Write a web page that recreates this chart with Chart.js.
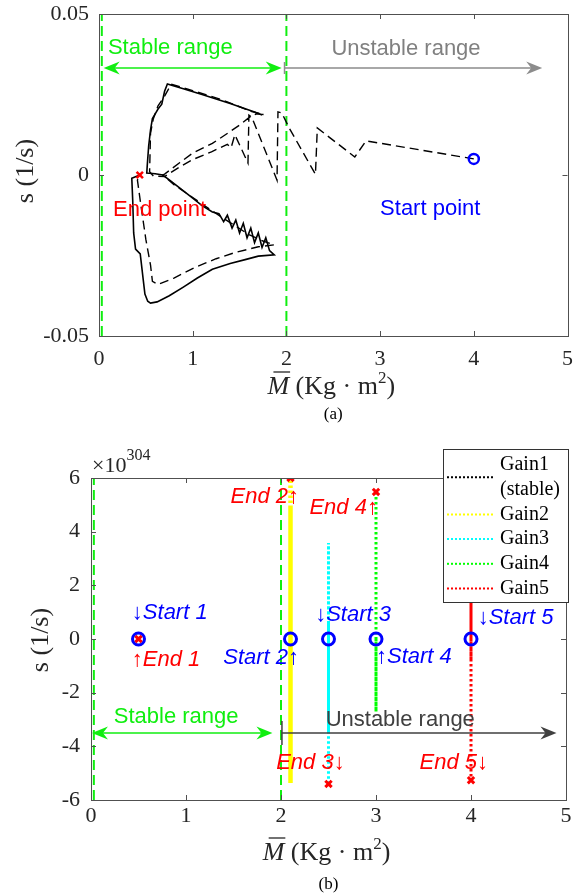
<!DOCTYPE html>
<html>
<head>
<meta charset="utf-8">
<script src="https://cdn.jsdelivr.net/npm/chart.js@4.4.1/dist/chart.umd.min.js"></script>
<style>
  html, body { margin: 0; padding: 0; background: #fff; }
  #wrap { position: relative; width: 575px; height: 896px; }
  canvas { position: absolute; left: 0; }
  #c1 { top: 0; }
  #c2 { top: 430px; }
</style>
</head>
<body>
<div id="wrap">
  <canvas id="c1" width="575" height="430"></canvas>
  <canvas id="c2" width="575" height="466"></canvas>
</div>
<script>
// ---------- data (a) ----------
const mTicks = [0, 1, 2, 3, 4, 5];
const stableBounds = [0.03, 2.0];

// solid trajectory (M, s)
const solidM = [1.74, 1.66, 1.4, 1.1, 0.9, 0.73, 0.7, 0.67, 0.63, 0.6, 0.57, 0.55, 0.53, 0.515, 0.51, 0.6, 0.68,
  0.75, 0.86, 1.0, 1.1, 1.21, 1.28, 1.33, 1.37, 1.42, 1.46, 1.5, 1.54, 1.58, 1.62, 1.66, 1.7, 1.74, 1.78, 1.82, 1.87,
  1.7, 1.57, 1.4, 1.21, 1.05, 0.9, 0.75, 0.62, 0.55, 0.52, 0.49, 0.47, 0.45, 0.44, 0.39, 0.37, 0.36, 0.35, 0.435];
const solidS = [0.0186, 0.0196, 0.0222, 0.025, 0.0268, 0.0283, 0.026, 0.022, 0.0205, 0.019, 0.0175, 0.014, 0.009, 0.003, 0.0006, 0.0004, 0.0,
  -0.0015, -0.004, -0.0072, -0.0095, -0.0115, -0.012, -0.0145, -0.0125, -0.0165, -0.014, -0.018, -0.015, -0.0195, -0.0165, -0.021, -0.018, -0.0225, -0.0195, -0.0235, -0.0248,
  -0.0252, -0.0262, -0.0275, -0.0293, -0.032, -0.0348, -0.0375, -0.0394, -0.0398, -0.0392, -0.037, -0.032, -0.027, -0.0245, -0.023, -0.018, -0.008, -0.001, 0];

// dashed trajectory (M, s), from the start point
const dashM = [4.0, 2.85, 2.73, 2.33, 2.31, 2.03, 1.95, 1.91, 1.9, 1.63, 1.6, 1.59, 1.45, 1.41, 1.37, 1.2, 1.0, 0.86, 0.7, 0.58,
  0.54, 0.55, 0.58, 0.63, 0.7, 0.77, 1.0, 1.3, 1.62, 1.76, 1.68, 1.6, 1.5, 1.4, 1.21, 1.0, 0.86, 0.7, 0.68,
  0.8, 1.0, 1.2, 1.4, 1.6, 1.75, 1.87, 1.7, 1.46, 1.25, 1.04, 0.8, 0.63, 0.57, 0.55, 0.5, 0.45, 0.41, 0.435];
const dashS = [0.005, 0.0106, 0.0056, 0.0146, 0.0002, 0.0146, 0.0193, 0.0196, -0.0016, 0.018, 0.0186, 0.0037, 0.0125, 0.0085, 0.0095, 0.0072, 0.0048, 0.0025, -0.0005, -0.0003,
  0.001, 0.013, 0.0175, 0.0215, 0.0245, 0.0282, 0.0262, 0.0235, 0.0198, 0.0188, 0.019, 0.0178, 0.0155, 0.0135, 0.0098, 0.0068, 0.0038, 0.0003, 0.0,
  -0.003, -0.007, -0.011, -0.0148, -0.0185, -0.0205, -0.0217, -0.0223, -0.024, -0.026, -0.0285, -0.032, -0.034, -0.033, -0.028, -0.02, -0.01, -0.0016, 0];

const startA = [4.0, 0.005];
const endA = [0.435, 0];

// ---------- data (b) ----------  (s in units of 10^304)
const sExponent = 304;
const gainLabels = ['Gain1\n(stable)', 'Gain2', 'Gain3', 'Gain4', 'Gain5'];
const gainColors = ['#000000', '#ffff00', '#00ffff', '#00ff00', '#ff0000'];
const gainM = [0.5, 2.1, 2.5, 3.0, 4.0];
const gain1S = [0, 0];
const gain2S = [0, 5.0, -5.37, 4.9, -5.3, 6.0];
const gain3S = [0, 0.7, -3.5, 0.7, -3.4, 0.65, -3.45, 0.68, -3.42, 3.58, -5.4];
const gain4S = [0, -2.72, 0, -2.6, 5.48];
const gain5S = [0, 2.0, -0.75, 2.0, -0.7, -5.26];
const gainS = [gain1S, gain2S, gain3S, gain4S, gain5S];

// ---------- helpers ----------
const SERIF = '"Liberation Serif", "Times New Roman", serif';
const SANS = '"Liberation Sans", Arial, sans-serif';
const GREEN = '#10ee10', RED = '#ff0000', BLUE = '#0000ff';

function pts(ms, ss) { return ms.map((m, i) => ({ x: m, y: ss[i] })); }

function arrowHead(ctx, x, y, dir, color) {
  const L = 16, W = 6.5, N = 5;
  ctx.fillStyle = color;
  ctx.beginPath();
  ctx.moveTo(x, y);
  ctx.lineTo(x - dir * L, y - W);
  ctx.lineTo(x - dir * (L - N), y);
  ctx.lineTo(x - dir * L, y + W);
  ctx.closePath();
  ctx.fill();
}

function rangeArrow(ctx, x1, x2, y, color, twoHeads, bar) {
  ctx.strokeStyle = color;
  ctx.lineWidth = 1.5;
  ctx.beginPath();
  ctx.moveTo(x1 + (twoHeads ? 8 : 0), y);
  ctx.lineTo(x2 - 8, y);
  if (bar) { ctx.moveTo(x1, y - bar); ctx.lineTo(x1, y + bar); }
  ctx.stroke();
  arrowHead(ctx, x2, y, 1, color);
  if (twoHeads) arrowHead(ctx, x1, y, -1, color);
}

function drawLabels(chart, list) {
  const { ctx, scales: { x, y } } = chart;
  ctx.save();
  ctx.textBaseline = 'middle';
  list.forEach(l => {
    ctx.font = (l.italic ? 'italic ' : '') + '22px ' + SANS;
    ctx.fillStyle = l.color;
    ctx.textAlign = l.align || 'left';
    ctx.fillText(l.text, x.getPixelForValue(l.m), y.getPixelForValue(l.s));
  });
  ctx.restore();
}

// box + inward ticks on all four sides
function drawFrame(chart) {
  const { ctx, chartArea: a, scales: { x, y } } = chart;
  ctx.save();
  ctx.strokeStyle = '#505050';
  ctx.lineWidth = 1;
  ctx.beginPath();
  x.ticks.forEach(t => {
    const px = Math.round(x.getPixelForValue(t.value)) + 0.5;
    ctx.moveTo(px, a.bottom); ctx.lineTo(px, a.bottom - 5);
    ctx.moveTo(px, a.top); ctx.lineTo(px, a.top + 5);
  });
  y.ticks.forEach(t => {
    const py = Math.round(y.getPixelForValue(t.value)) + 0.5;
    ctx.moveTo(a.left, py); ctx.lineTo(a.left + 5, py);
    ctx.moveTo(a.right, py); ctx.lineTo(a.right - 5, py);
  });
  ctx.stroke();
  ctx.strokeRect(Math.round(a.left) + 0.5, Math.round(a.top) + 0.5, Math.round(a.width), Math.round(a.height));
  ctx.restore();
}

function drawTitles(chart, yTitle, xBase, caption, captionY) {
  const { ctx, chartArea: a } = chart;
  const cx = (a.left + a.right) / 2;
  const fI = 'italic 26px ' + SERIF, fR = '26px ' + SERIF, fS = '17px ' + SERIF;
  ctx.save();
  ctx.fillStyle = '#262626';
  ctx.strokeStyle = '#262626';
  ctx.textAlign = 'left';
  ctx.textBaseline = 'alphabetic';
  // x title: M-bar (Kg . m^2)
  ctx.font = fI; const wM = ctx.measureText('M').width;
  ctx.font = fR; const w1 = ctx.measureText(' (Kg \u00b7 m').width; const w3 = ctx.measureText(')').width;
  ctx.font = fS; const w2 = ctx.measureText('2').width;
  let x0 = cx - 2 - (wM + w1 + w2 + w3) / 2;
  ctx.font = fI; ctx.fillText('M', x0, xBase);
  ctx.lineWidth = 1.3;
  ctx.beginPath(); ctx.moveTo(x0 + 6, xBase - 22); ctx.lineTo(x0 + wM + 1, xBase - 22); ctx.stroke();
  x0 += wM;
  ctx.font = fR; ctx.fillText(' (Kg \u00b7 m', x0, xBase); x0 += w1;
  ctx.font = fS; ctx.fillText('2', x0, xBase - 11); x0 += w2;
  ctx.font = fR; ctx.fillText(')', x0, xBase);
  // y title: s (1/s)
  ctx.translate(yTitle.x, yTitle.y);
  ctx.rotate(-Math.PI / 2);
  ctx.textBaseline = 'middle';
  ctx.textAlign = 'center';
  ctx.font = '26px ' + SERIF;
  ctx.fillText('s (1/s)', 0, 0);
  ctx.restore();
  // caption
  ctx.save();
  ctx.font = '17px ' + SERIF;
  ctx.fillStyle = '#000';
  ctx.textAlign = 'center';
  ctx.textBaseline = 'middle';
  ctx.fillText(caption, cx, captionY);
  ctx.restore();
}

function axes(yMin, yMax, yStep, yWidth, xHeight, xPad, yPad, yFmt) {
  const tickFont = { family: SERIF, size: 22 };
  return {
    x: {
      type: 'linear', min: 0, max: 5,
      afterFit: s => { s.height = xHeight; s.paddingLeft = 0; s.paddingRight = 0; },
      afterBuildTicks: s => { s.ticks = mTicks.map(v => ({ value: v })); },
      ticks: { padding: xPad, font: tickFont, color: '#262626', callback: v => String(v) },
      grid: { display: false, drawTicks: false },
      border: { display: false }
    },
    y: {
      type: 'linear', min: yMin, max: yMax,
      afterFit: s => { s.width = yWidth; s.paddingTop = 0; s.paddingBottom = 0; },
      ticks: { stepSize: yStep, padding: yPad, font: tickFont, color: '#262626', callback: yFmt },
      grid: { display: false, drawTicks: false },
      border: { display: false }
    }
  };
}

function vLine(m, lo, hi) {
  return {
    data: [{ x: m, y: lo }, { x: m, y: hi }], showLine: true, pointRadius: 0,
    borderColor: GREEN, borderWidth: 2, borderDash: [10, 5], order: 6
  };
}

// ---------- chart (a) ----------
const labelsA = [
  { text: 'Stable range', m: 0.095, s: 0.0394, color: GREEN },
  { text: 'Unstable range', m: 2.48, s: 0.039, color: '#808080' },
  { text: 'End point', m: 0.15, s: -0.0109, color: RED },
  { text: 'Start point', m: 3.0, s: -0.0106, color: BLUE }
];

new Chart(document.getElementById('c1'), {
  type: 'scatter',
  data: {
    datasets: [
      ...stableBounds.map(b => vLine(b, -0.05, 0.05)),
      { data: pts(dashM, dashS), showLine: true, pointRadius: 0, borderColor: '#000', borderWidth: 1.4, borderDash: [9, 5], order: 3 },
      { data: pts(solidM, solidS), showLine: true, pointRadius: 0, borderColor: '#000', borderWidth: 1.6, order: 2 },
      { data: [{ x: startA[0], y: startA[1] }], pointStyle: 'circle', pointRadius: 5, borderWidth: 2.5,
        borderColor: BLUE, backgroundColor: 'rgba(0,0,0,0)', order: 0 },
      { data: [{ x: endA[0], y: endA[1] }], pointStyle: 'crossRot', pointRadius: 4.5, borderWidth: 2.5,
        borderColor: RED, order: 0 }
    ]
  },
  options: {
    responsive: false, animation: false, events: [],
    layout: { padding: { left: 0, right: 5, top: 14, bottom: 0 } },
    plugins: { legend: { display: false }, tooltip: { enabled: false } },
    scales: axes(-0.05, 0.05, 0.05, 99, 94, 10, 10, v => Math.abs(v) < 1e-9 ? '0' : v.toFixed(2))
  },
  plugins: [{
    id: 'decorA',
    afterDatasetsDraw(chart) {
      const { ctx, scales: { x, y } } = chart;
      drawFrame(chart);
      ctx.save();
      rangeArrow(ctx, x.getPixelForValue(0.05), x.getPixelForValue(1.95), y.getPixelForValue(0.0332), GREEN, true, 0);
      rangeArrow(ctx, x.getPixelForValue(1.98), x.getPixelForValue(4.73), y.getPixelForValue(0.0332), '#8c8c8c', false, 6);
      ctx.restore();
      drawLabels(chart, labelsA);
      drawTitles(chart, { x: 26, y: 171 }, 394, '(a)', 415);
    }
  }]
});

// ---------- chart (b) ----------
const labelsB = [
  { text: '\u2193Start 1', m: 0.43, s: 0.97, color: BLUE, italic: true },
  { text: '\u2191End 1', m: 0.43, s: -0.78, color: RED, italic: true },
  { text: 'Start 2\u2191', m: 2.19, s: -0.72, color: BLUE, italic: true, align: 'right' },
  { text: 'End 2\u2191', m: 2.19, s: 5.29, color: RED, italic: true, align: 'right' },
  { text: '\u2193Start 3', m: 2.36, s: 0.89, color: BLUE, italic: true },
  { text: 'End 4\u2191', m: 3.02, s: 4.88, color: RED, italic: true, align: 'right' },
  { text: '\u2191Start 4', m: 3.0, s: -0.67, color: BLUE, italic: true },
  { text: '\u2193Start 5', m: 4.07, s: 0.78, color: BLUE, italic: true },
  { text: 'End 3\u2193', m: 2.67, s: -4.62, color: RED, italic: true, align: 'right' },
  { text: 'End 5\u2193', m: 4.18, s: -4.62, color: RED, italic: true, align: 'right' },
  { text: 'Stable range', m: 0.24, s: -2.91, color: GREEN },
  { text: 'Unstable range', m: 2.47, s: -3.02, color: '#404040' }
];

function drawLegend(chart) {
  const { ctx, chartArea: a } = chart;
  const bx = a.right - 123, by = a.top - 29, bw = 125, bh = 153, rowH = 24.7;
  ctx.save();
  ctx.fillStyle = '#fff';
  ctx.fillRect(bx, by, bw, bh);
  ctx.strokeStyle = '#333';
  ctx.lineWidth = 1;
  ctx.strokeRect(Math.round(bx) + 0.5, Math.round(by) + 0.5, bw, bh);
  ctx.font = '20px ' + SERIF;
  ctx.textBaseline = 'middle';
  ctx.textAlign = 'left';
  let row = 0;
  gainLabels.forEach((lab, i) => {
    const lines = lab.split('\n');
    const y0 = by + 16 + row * rowH;
    const yLine = y0 + (lines.length - 1) * rowH / 2;
    ctx.strokeStyle = gainColors[i];
    ctx.lineWidth = 2;
    ctx.setLineDash([2, 2]);
    ctx.beginPath(); ctx.moveTo(bx + 4, yLine); ctx.lineTo(bx + 51, yLine); ctx.stroke();
    ctx.setLineDash([]);
    ctx.fillStyle = '#000';
    lines.forEach((t, k) => ctx.fillText(t, bx + 57, y0 + k * rowH));
    row += lines.length;
  });
  ctx.restore();
}

new Chart(document.getElementById('c2'), {
  type: 'scatter',
  data: {
    datasets: [
      ...stableBounds.map(b => vLine(b, -6, 6)),
      ...gainS.map((ss, i) => ({
        data: ss.map(v => ({ x: gainM[i], y: v })), showLine: true, pointRadius: 0,
        borderColor: gainColors[i], borderWidth: i === 1 ? 4.5 : 3, borderDash: [2.5, 2.5], order: 4
      })),
      { data: gainM.map(m => ({ x: m, y: 0 })), pointStyle: 'circle', pointRadius: 6, borderWidth: 3,
        borderColor: BLUE, backgroundColor: 'rgba(0,0,0,0)', order: 1 },
      { data: gainS.map((ss, i) => ({ x: gainM[i], y: ss[ss.length - 1] })), pointStyle: 'crossRot', pointRadius: 4.5,
        borderWidth: 3, borderColor: RED, order: 0 }
    ]
  },
  options: {
    responsive: false, animation: false, events: [],
    layout: { padding: { left: 0, right: 6, top: 48, bottom: 0 } },
    plugins: { legend: { display: false }, tooltip: { enabled: false } },
    scales: axes(-6, 6, 2, 91, 96, 3, 11, v => String(Math.round(v)))
  },
  plugins: [{
    id: 'decorB',
    afterDatasetsDraw(chart) {
      const { ctx, chartArea: a, scales: { x, y } } = chart;
      drawFrame(chart);
      ctx.save();
      rangeArrow(ctx, x.getPixelForValue(0.01), x.getPixelForValue(1.91), y.getPixelForValue(-3.5), GREEN, true, 0);
      rangeArrow(ctx, x.getPixelForValue(2.01), x.getPixelForValue(4.9), y.getPixelForValue(-3.5), '#404040', false, 12);
      // exponent above the y axis
      ctx.fillStyle = '#262626';
      ctx.textBaseline = 'middle';
      ctx.font = '22px ' + SERIF;
      ctx.fillText('\u00d710', a.left + 1, a.top - 12);
      const w = ctx.measureText('\u00d710').width;
      ctx.font = '16px ' + SERIF;
      ctx.fillText(String(sExponent), a.left + 1 + w, a.top - 22);
      ctx.restore();
      drawLabels(chart, labelsB);
      drawTitles(chart, { x: 41, y: 210 }, 430, '(b)', 455);
    },
    afterDraw(chart) { drawLegend(chart); }
  }]
});
</script>
</body>
</html>
